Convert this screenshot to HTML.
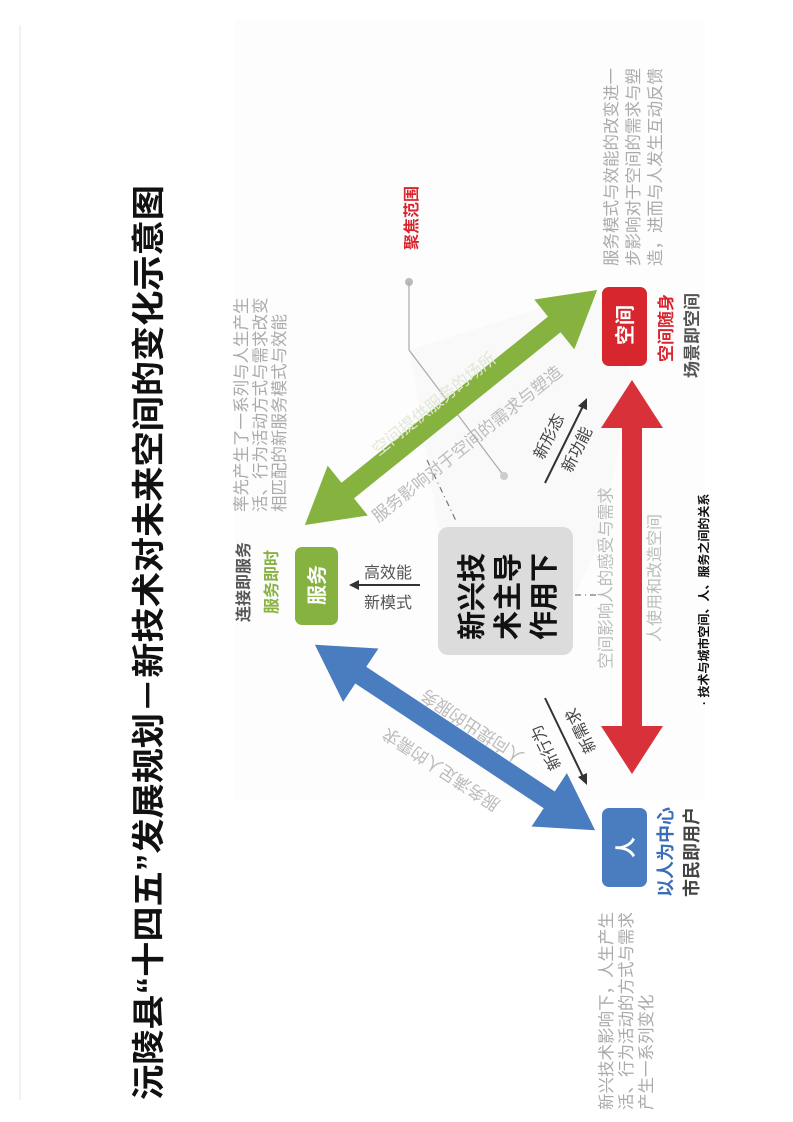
<!DOCTYPE html>
<html><head><meta charset="utf-8"><style>
html,body{margin:0;padding:0;background:#fff}
svg{display:block}
text{font-family:"Liberation Sans","Noto Sans CJK SC",sans-serif}
</style></head><body>
<svg width="793" height="1122" viewBox="0 0 793 1122" xmlns="http://www.w3.org/2000/svg">
<rect width="793" height="1122" fill="#fff"/>
<line x1="20" y1="25" x2="20" y2="1100" stroke="#e6e6e6" stroke-width="1"/>
<rect x="235" y="20" width="470" height="780" fill="#fdfdfd"/>
<polygon points="410,350 597,290 632,380 600,540 575,595 438,527" fill="#f9f9f9"/>

<!-- title -->
<text transform="translate(160,1100) rotate(-90)" font-size="33" font-weight="bold" fill="#111" textLength="915" lengthAdjust="spacingAndGlyphs">沅陵县“十四五”发展规划－新技术对未来空间的变化示意图</text>

<!-- focus line -->
<circle cx="409" cy="282" r="4" fill="#bbb"/>
<polyline points="409,282 409,350 504,476" fill="none" stroke="#aaa" stroke-width="1.2"/>
<circle cx="504" cy="476" r="4" fill="#ccc"/>
<text transform="translate(417,250) rotate(-90)" font-size="16" font-weight="bold" fill="#d8262f">聚焦范围</text>

<!-- dashed connectors -->
<line x1="427" y1="460" x2="457" y2="523" stroke="#777" stroke-width="1.2" stroke-dasharray="6,4,1,4"/>
<line x1="575" y1="595" x2="600" y2="595" stroke="#777" stroke-width="1.2" stroke-dasharray="6,4,1,4"/>

<!-- arrows -->
<path transform="translate(451,407.5) rotate(-38.8)" fill="#86b33f" d="M-187.5,0 L-132.5,-32 L-132.5,-10 L132.5,-10 L132.5,-32 L187.5,0 L132.5,32 L132.5,10 L-132.5,10 L-132.5,32 Z"/>
<path transform="translate(455,737.5) rotate(33.5)" fill="#4a7cc0" d="M-168,0 L-113,-32 L-113,-10 L113,-10 L113,-32 L168,0 L113,32 L113,10 L-113,10 L-113,32 Z"/>
<path transform="translate(632,577) rotate(90)" fill="#d8313a" d="M-197,0 L-149,-31 L-149,-10 L149,-10 L149,-31 L197,0 L149,31 L149,10 L-149,10 L-149,31 Z"/>

<!-- arrow labels -->
<text transform="translate(435,405) rotate(-38.8)" font-size="17" fill="#e2e8d8" text-anchor="middle" dominant-baseline="middle">空间提供服务的场所</text>
<text transform="translate(468,445) rotate(-38.8)" font-size="17" fill="#bbb" text-anchor="middle" dominant-baseline="middle">服务影响对于空间的需求与塑造</text>
<text transform="translate(473,725) rotate(-146.5)" font-size="17" fill="#bbb" text-anchor="middle" dominant-baseline="middle">人向提出的服务</text>
<text transform="translate(442,768) rotate(-146.5)" font-size="17" fill="#bbb" text-anchor="middle" dominant-baseline="middle">服务满足人的需求</text>
<text transform="translate(607,578) rotate(-90)" font-size="16.5" fill="#bbb" text-anchor="middle" dominant-baseline="middle">空间影响人的感受与需求</text>
<text transform="translate(656,578) rotate(-90)" font-size="16" fill="#bbb" text-anchor="middle" dominant-baseline="middle">人使用和改造空间</text>

<!-- small arrows -->
<line x1="420" y1="585" x2="356" y2="585" stroke="#333" stroke-width="2"/>
<polygon points="349,585 359,580 359,590" fill="#333"/>
<text x="388" y="578" font-size="16" fill="#555" text-anchor="middle">高效能</text>
<text x="388" y="608" font-size="16" fill="#555" text-anchor="middle">新模式</text>

<line x1="545" y1="483" x2="584" y2="404" stroke="#333" stroke-width="2"/>
<polygon points="587,398 587,410 578,406" fill="#333"/>
<text transform="translate(550,437) rotate(-63.7)" font-size="16" fill="#444" text-anchor="middle" dominant-baseline="middle">新形态</text>
<text transform="translate(578,450) rotate(-63.7)" font-size="16" fill="#444" text-anchor="middle" dominant-baseline="middle">新功能</text>

<line x1="545" y1="698" x2="584" y2="779" stroke="#333" stroke-width="2"/>
<polygon points="587,785 578,777 587,773" fill="#333"/>
<text transform="translate(547,747) rotate(-116)" font-size="16" fill="#444" text-anchor="middle" dominant-baseline="middle">新行为</text>
<text transform="translate(582,730) rotate(-116)" font-size="16" fill="#444" text-anchor="middle" dominant-baseline="middle">新需求</text>

<!-- center box -->
<rect x="438" y="527" width="135" height="128" rx="10" fill="#dcdcdc"/>
<text transform="translate(482,640) rotate(-90)" font-size="29" font-weight="bold" fill="#111">新兴技</text>
<text transform="translate(518,640) rotate(-90)" font-size="29" font-weight="bold" fill="#111">术主导</text>
<text transform="translate(554,640) rotate(-90)" font-size="29" font-weight="bold" fill="#111">作用下</text>

<!-- nodes -->
<rect x="602" y="287" width="45" height="79" rx="7" fill="#d8262f"/>
<text transform="translate(632,345) rotate(-90)" font-size="20" font-weight="bold" fill="#fff">空间</text>
<text transform="translate(672,362) rotate(-90)" font-size="17" font-weight="bold" fill="#d8262f">空间随身</text>
<text transform="translate(698,378) rotate(-90)" font-size="17" font-weight="bold" fill="#555">场景即空间</text>

<rect x="295" y="547" width="43" height="78" rx="7" fill="#86b33f"/>
<text transform="translate(324,605) rotate(-90)" font-size="20" font-weight="bold" fill="#fff">服务</text>
<text transform="translate(249,622) rotate(-90)" font-size="16" font-weight="bold" fill="#555">连接即服务</text>
<text transform="translate(277,614) rotate(-90)" font-size="16" font-weight="bold" fill="#86b33f">服务即时</text>

<rect x="602" y="808" width="45" height="79" rx="7" fill="#4a7cc0"/>
<text transform="translate(633,858) rotate(-90)" font-size="21" font-weight="bold" fill="#fff">人</text>
<text transform="translate(672,897) rotate(-90)" font-size="18" font-weight="bold" fill="#3a6fb8">以人为中心</text>
<text transform="translate(698,897) rotate(-90)" font-size="18" font-weight="bold" fill="#444">市民即用户</text>

<!-- grey text blocks -->
<g font-size="16.5" fill="#aaa">
<text transform="translate(247,512) rotate(-90)">率先产生了一系列与人生产生</text>
<text transform="translate(266,512) rotate(-90)">活、行为活动方式与需求改变</text>
<text transform="translate(285,512) rotate(-90)">相匹配的新服务模式与效能</text>
<text transform="translate(617,266) rotate(-90)">服务模式与效能的改变进一</text>
<text transform="translate(639,266) rotate(-90)">步影响对于空间的需求与塑</text>
<text transform="translate(661,266) rotate(-90)">造，进而与人发生互动反馈</text>
<text transform="translate(612,1110) rotate(-90)">新兴技术影响下，人生产生</text>
<text transform="translate(632,1110) rotate(-90)">活、行为活动的方式与需求</text>
<text transform="translate(652,1110) rotate(-90)">产生一系列变化</text>
</g>

<text transform="translate(708,705) rotate(-90)" font-size="12" font-weight="bold" fill="#111">·  技术与城市空间、人、服务之间的关系</text>
</svg>
</body></html>
